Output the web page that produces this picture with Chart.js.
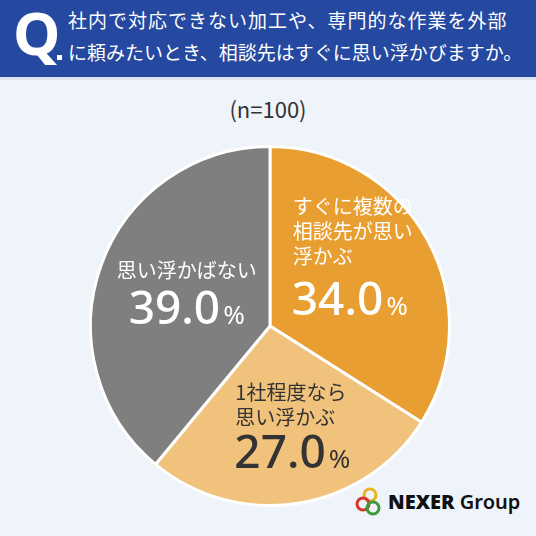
<!DOCTYPE html>
<html lang="ja">
<head>
<meta charset="utf-8">
<script src="https://cdn.jsdelivr.net/npm/chart.js@4.4.1/dist/chart.umd.min.js"></script>
<style>
  html, body { margin: 0; padding: 0; }
  body {
    width: 536px; height: 536px; overflow: hidden; position: relative;
    background: #eff3fa;
    font-family: "Noto Sans CJK JP", "Noto Sans", sans-serif;
  }
  #header {
    position: absolute; left: 0; top: 0; width: 536px; height: 77px;
    background: #2548a0; border-bottom: 3px solid #dde5f3;
  }
  #q {
    position: absolute; left: 13px; top: -8px; color: #fff;
    font-family: "Noto Sans", sans-serif; font-weight: 700; font-size: 60px; line-height: 80px;
  }
  #qdot {
    position: absolute; left: 57px; top: 55px; width: 5px; height: 5px; background: #fff;
  }
  .qline {
    position: absolute; left: 68px; color: #fff; font-size: 19px; font-weight: 400;
    white-space: nowrap; line-height: 24px;
  }
  #n {
    position: absolute; left: 0; width: 536px; top: 94px; text-align: center;
    font-size: 22px; color: #333; line-height: 28px;
  }
  #logo { position: absolute; left: 354px; top: 486px; }
  #logoText {
    position: absolute; left: 388px; top: 488px; font-family: "Noto Sans", sans-serif;
    font-size: 20px; color: #111; line-height: 28px; white-space: nowrap;
  }
  #chart { position: absolute; left: 0; top: 0; }
</style>
</head>
<body>
<div id="header">
  <div id="q">Q</div>
  <div id="qdot"></div>
  <div class="qline" id="l1" style="top:8px; letter-spacing:1px;">社内で対応できない加工や、専門的な作業を外部</div>
  <div class="qline" id="l2" style="top:40px; letter-spacing:0px;">に頼みたいとき、相談先はすぐに思い浮かびますか。</div>
</div>
<div id="n">(n=100)</div>
<svg id="logo" width="32" height="32" viewBox="0 0 32 32">
  <circle cx="16" cy="9" r="6" fill="none" stroke="#e8b422" stroke-width="3"/>
  <circle cx="9" cy="18" r="6" fill="none" stroke="#d8332f" stroke-width="3"/>
  <circle cx="19" cy="22" r="6" fill="none" stroke="#3d9b3a" stroke-width="3"/>
</svg>
<div id="logoText"><b style="font-weight:900;">NEXER</b> <span style="font-weight:600;">Group</span></div>
<canvas id="chart" width="536" height="536"></canvas>

<script>
const categories = ["すぐに複数の\n相談先が思い\n浮かぶ", "1社程度なら\n思い浮かぶ", "思い浮かばない"];
const values = [34.0, 27.0, 39.0];
const sliceColors = ["#e99e31", "#f0c27b", "#7f7f7f"];
const textColors = ["#ffffff", "#333333", "#ffffff"];

// label placement relative to the pie centre, in units of radius
const labelLayout = [
  { dx: 0.127, dy: -0.668, align: "left", gap: 43 },
  { dx: -0.193, dy: 0.37, align: "left", gap: 35 },
  { dx: -0.464, dy: -0.309, align: "center", gap: 37 }
];

const sliceLabels = {
  id: "sliceLabels",
  afterDatasetsDraw(chart) {
    const ctx = chart.ctx;
    const meta = chart.getDatasetMeta(0);
    meta.data.forEach((arc, i) => {
      const r = arc.outerRadius;
      const lay = labelLayout[i];
      const x = arc.x + lay.dx * r;
      let y = arc.y + lay.dy * r;
      ctx.save();
      ctx.fillStyle = textColors[i];
      ctx.textBaseline = "middle";
      ctx.font = '400 20px "Noto Sans CJK JP"';
      const lines = categories[i].split("\n");
      lines.forEach((line, k) => {
        ctx.textAlign = lay.align;
        ctx.fillText(line, x, y + k * 25);
      });
      y += (lines.length - 1) * 25 + lay.gap;
      const num = values[i].toFixed(1);
      const numFont = '500 46px "Noto Sans"';
      const pctFont = '400 26px "Noto Sans"';
      ctx.font = numFont;
      const wNum = ctx.measureText(num).width;
      ctx.font = pctFont;
      const wPct = ctx.measureText("%").width + 3;
      const left = lay.align === "center" ? x - (wNum + wPct) / 2 : x - 1;
      ctx.textAlign = "left";
      ctx.textBaseline = "alphabetic";
      ctx.font = numFont;
      ctx.fillText(num, left, y + 16);
      ctx.font = pctFont;
      ctx.fillText("%", left + wNum + 3, y + 16);
      ctx.restore();
    });
  }
};

new Chart(document.getElementById("chart"), {
  type: "pie",
  data: {
    labels: categories,
    datasets: [{
      data: values,
      backgroundColor: sliceColors,
      borderColor: "#ffffff",
      borderWidth: 3
    }]
  },
  options: {
    responsive: false,
    animation: false,
    layout: { padding: { left: 89, right: 85, top: 145, bottom: 29 } },
    plugins: {
      legend: { display: false },
      tooltip: { enabled: false }
    }
  },
  plugins: [sliceLabels]
});
</script>
</body>
</html>
